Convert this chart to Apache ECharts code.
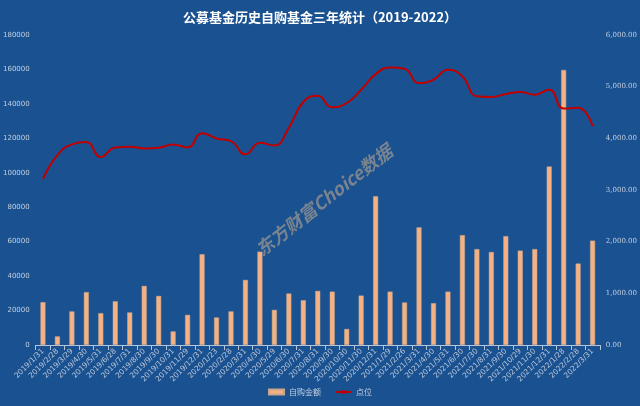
<!DOCTYPE html>
<html><head><meta charset="utf-8">
<script src="https://cdn.jsdelivr.net/npm/echarts@6/dist/echarts.min.js"></script>
<style>html,body{margin:0;padding:0;background:#1a5190;}#c{width:640px;height:406px;}</style>
</head><body><div id="c"></div>
<script>
const categories = ['2019/1/31','2019/2/28','2019/3/29','2019/4/30','2019/5/31','2019/6/28','2019/7/31','2019/8/30','2019/9/30','2019/10/31','2019/11/29','2019/12/31','2020/1/23','2020/2/28','2020/3/31','2020/4/30','2020/5/29','2020/6/30','2020/7/31','2020/8/31','2020/9/30','2020/10/30','2020/11/30','2020/12/31','2021/1/29','2021/2/26','2021/3/31','2021/4/30','2021/5/31','2021/6/30','2021/7/30','2021/8/31','2021/9/30','2021/10/29','2021/11/30','2021/12/31','2022/1/28','2022/2/28','2022/3/31'];
const purchaseAmount = [24900,5000,19500,30700,18500,25400,18900,34300,28500,7900,17500,52700,16000,19500,37800,54200,20400,29900,26000,31400,31000,9300,28700,86400,31000,24700,68300,24300,31000,63800,55700,54000,63200,54800,55700,103600,159700,47300,60600];
const indexPoints = [3209,3677,3882,3927,3638,3824,3837,3805,3818,3882,3824,4100,3998,3946,3690,3914,3863,4203,4703,4826,4601,4684,4941,5242,5371,5346,5069,5134,5326,5198,4813,4800,4858,4896,4845,4941,4577,4590,4235];
const leftTicks = {min:0, max:180000, interval:20000};
const rightTicks = {min:0, max:6000, interval:1000};
const titleText = '公募基金历史自购基金三年统计（2019-2022）';
const seriesNames = ['自购金额','点位'];

function fmt2(v){
  const s = v.toFixed(2).split('.');
  return s[0].replace(/\B(?=(\d{3})+(?!\d))/g, ',') + '.' + s[1];
}
const chart = echarts.init(document.getElementById('c'));
const lbl = '#c4cfe0';
chart.setOption({
  backgroundColor:'#1a5190',
  animation:false,
  title:{text:titleText,left:'center',top:6,textStyle:{color:'#ffffff',fontSize:13,fontWeight:'bold',fontFamily:'Noto Sans CJK SC'}},
  legend:{bottom:5,left:'center',itemWidth:15,itemHeight:5,itemGap:14,textStyle:{color:lbl,fontSize:8,fontFamily:'Noto Sans CJK SC'},
    data:[{name:seriesNames[0],icon:'rect'},{name:seriesNames[1]}]},
  grid:{left:32,right:40,top:35,bottom:61,containLabel:false},
  xAxis:{type:'category',data:categories,boundaryGap:true,
    axisLine:{lineStyle:{color:'#b8c4d8'}},axisTick:{show:true,alignWithLabel:false,lineStyle:{color:'#b8c4d8'}},
    axisLabel:{interval:0,rotate:45,fontSize:7.5,color:'#b9c6da',margin:5,fontFamily:'DejaVu Sans'}},
  yAxis:[{type:'value',min:leftTicks.min,max:leftTicks.max,interval:leftTicks.interval,splitLine:{show:false},
    axisLine:{show:false},axisTick:{show:false},axisLabel:{fontSize:7,color:lbl,margin:6,fontFamily:'DejaVu Sans',formatter:function(v){return String(v);}}},
    {type:'value',min:rightTicks.min,max:rightTicks.max,interval:rightTicks.interval,splitLine:{show:false},
    axisLine:{show:false},axisTick:{show:false},axisLabel:{fontSize:7,color:lbl,margin:6,fontFamily:'DejaVu Serif',formatter:fmt2}}],
  graphic:[{type:'text',x:324,y:200,rotation:38*Math.PI/180,
    style:{text:'东方财富Choice数据',fill:'rgba(145,145,145,0.8)',font:'italic bold 18px "Noto Sans CJK SC"',textAlign:'center',textVerticalAlign:'middle'},z:0}],
  series:[
    {name:seriesNames[0],type:'bar',data:purchaseAmount,yAxisIndex:0,barWidth:5,
      itemStyle:{color:'#f4b183',borderColor:'#c9a78f',borderWidth:0.5},z:2},
    {name:seriesNames[1],type:'line',data:indexPoints,yAxisIndex:1,smooth:true,symbol:'none',
      lineStyle:{color:'#c00000',width:2},itemStyle:{color:'#c00000'},z:3}
  ]
});
</script></body></html>
